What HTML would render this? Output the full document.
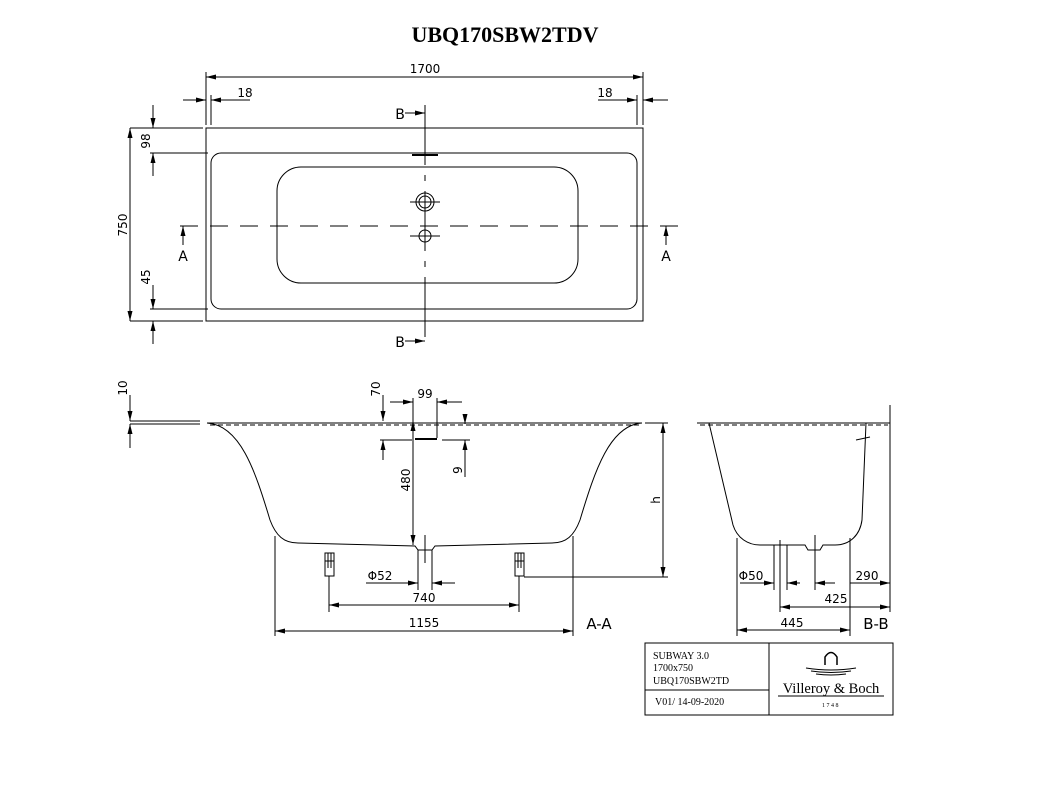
<!DOCTYPE html>
<html><head><meta charset="utf-8"><style>
html,body{margin:0;padding:0;background:#fff;}
svg{display:block;}
.d{font-family:"DejaVu Sans","Liberation Sans",sans-serif;font-size:12px;fill:#000;}
.s{font-family:"Liberation Serif",serif;fill:#000;}
</style></head><body>
<svg width="1055" height="789" viewBox="0 0 1055 789" xmlns="http://www.w3.org/2000/svg">
<defs>
<marker id="a" viewBox="0 0 12 6" refX="12" refY="3" markerWidth="12" markerHeight="5" markerUnits="userSpaceOnUse" orient="auto-start-reverse"><path d="M0,0L12,3L0,6z" fill="#000"/></marker>
</defs>
<text x="505" y="42" text-anchor="middle" class="s" font-size="22" font-weight="bold">UBQ170SBW2TDV</text>
<g stroke="#000" stroke-width="1" fill="none">
<rect x="206" y="128" width="437" height="193"/>
<rect x="211" y="153" width="426" height="156" rx="10"/>
<rect x="277" y="167" width="301" height="116" rx="24"/>
<line x1="180" y1="226" x2="680" y2="226" stroke-dasharray="18,12"/>
<line x1="425" y1="105" x2="425" y2="346" stroke-dasharray="60,10,6,10"/>
<line x1="412" y1="155" x2="438" y2="155" stroke-width="2"/>
<circle cx="425" cy="202" r="9"/><circle cx="425" cy="202" r="6"/>
<line x1="410" y1="202" x2="440" y2="202"/>
<circle cx="425" cy="236" r="6"/><line x1="410" y1="236" x2="440" y2="236"/>
<line x1="206" y1="72" x2="206" y2="125"/><line x1="643" y1="72" x2="643" y2="125"/>
<line x1="211" y1="95" x2="211" y2="125"/><line x1="637" y1="95" x2="637" y2="125"/>
<line x1="206" y1="77" x2="643" y2="77" marker-start="url(#a)" marker-end="url(#a)"/>
<line x1="183" y1="100" x2="206" y2="100" marker-end="url(#a)"/>
<line x1="250" y1="100" x2="211" y2="100" marker-end="url(#a)"/>
<line x1="598" y1="100" x2="637" y2="100" marker-end="url(#a)"/>
<line x1="668" y1="100" x2="643" y2="100" marker-end="url(#a)"/>
<line x1="130" y1="128" x2="203" y2="128"/><line x1="150" y1="153" x2="208" y2="153"/>
<line x1="150" y1="309" x2="208" y2="309"/><line x1="130" y1="321" x2="203" y2="321"/>
<line x1="130" y1="128" x2="130" y2="321" marker-start="url(#a)" marker-end="url(#a)"/>
<line x1="153" y1="105" x2="153" y2="128" marker-end="url(#a)"/>
<line x1="153" y1="176" x2="153" y2="153" marker-end="url(#a)"/>
<line x1="153" y1="285" x2="153" y2="309" marker-end="url(#a)"/>
<line x1="153" y1="344" x2="153" y2="321" marker-end="url(#a)"/>
<line x1="183" y1="245" x2="183" y2="226" marker-end="url(#a)"/>
<line x1="666" y1="245" x2="666" y2="226" marker-end="url(#a)"/>
<line x1="405" y1="113" x2="425" y2="113" marker-end="url(#a)"/>
<line x1="405" y1="341" x2="425" y2="341" marker-end="url(#a)"/>
<line x1="130" y1="421" x2="200" y2="421"/>
<line x1="130" y1="424" x2="200" y2="424"/>
<path d="M207,423 L642,423"/>
<line x1="210" y1="425" x2="640" y2="425" stroke-dasharray="5,3"/>
<path d="M207,423 C240,425 255,470 270,520 C276,536 284,543 298,543 L415,546 L418,550 L432,550 L435,546 L552,543 C566,543 574,536 580,520 C595,470 610,425 642,423"/>
<line x1="130" y1="395" x2="130" y2="421" marker-end="url(#a)"/>
<line x1="130" y1="448" x2="130" y2="424" marker-end="url(#a)"/>
<line x1="383" y1="395" x2="383" y2="421" marker-end="url(#a)"/>
<line x1="383" y1="460" x2="383" y2="440" marker-end="url(#a)"/>
<line x1="380" y1="440" x2="412" y2="440"/>
<line x1="415" y1="439" x2="437" y2="439" stroke-width="2"/>
<line x1="442" y1="440" x2="470" y2="440"/>
<line x1="413" y1="398" x2="413" y2="421"/><line x1="437" y1="398" x2="437" y2="438"/>
<line x1="390" y1="402" x2="413" y2="402" marker-end="url(#a)"/>
<line x1="462" y1="402" x2="437" y2="402" marker-end="url(#a)"/>
<line x1="465" y1="415" x2="465" y2="424" marker-end="url(#a)"/>
<line x1="465" y1="477" x2="465" y2="440" marker-end="url(#a)"/>
<line x1="413" y1="421" x2="413" y2="545" marker-start="url(#a)" marker-end="url(#a)"/>
<line x1="425" y1="535" x2="425" y2="563"/>
<line x1="418" y1="550" x2="418" y2="590"/><line x1="432" y1="550" x2="432" y2="590"/>
<line x1="366" y1="583" x2="418" y2="583" marker-end="url(#a)"/>
<line x1="455" y1="583" x2="432" y2="583" marker-end="url(#a)"/>
<rect x="325" y="553" width="9" height="23"/><line x1="325" y1="561" x2="334" y2="561"/><line x1="328" y1="553" x2="328" y2="568"/><line x1="331" y1="553" x2="331" y2="568"/>
<rect x="515" y="553" width="9" height="23"/><line x1="515" y1="561" x2="524" y2="561"/><line x1="518" y1="553" x2="518" y2="568"/><line x1="521" y1="553" x2="521" y2="568"/>
<line x1="329" y1="576" x2="329" y2="612"/><line x1="519" y1="576" x2="519" y2="612"/>
<line x1="329" y1="605" x2="519" y2="605" marker-start="url(#a)" marker-end="url(#a)"/>
<line x1="275" y1="536" x2="275" y2="636"/><line x1="573" y1="536" x2="573" y2="636"/>
<line x1="275" y1="631" x2="573" y2="631" marker-start="url(#a)" marker-end="url(#a)"/>
<line x1="524" y1="577" x2="668" y2="577"/><line x1="645" y1="423" x2="668" y2="423"/>
<line x1="663" y1="423" x2="663" y2="577" marker-start="url(#a)" marker-end="url(#a)"/>
<path d="M697,423 L890,423"/>
<line x1="700" y1="425" x2="888" y2="425" stroke-dasharray="5,3"/>
<path d="M697,423 L709,423 L733,525 C737,538 748,545 760,545 L805,545 L808,550 L820,550 L823,545 L835,545 C850,545 860,535 862,520 L866,423 L890,423"/>
<line x1="856" y1="440" x2="870" y2="437"/>
<line x1="890" y1="405" x2="890" y2="612"/>
<line x1="737" y1="538" x2="737" y2="636"/><line x1="850" y1="538" x2="850" y2="636"/>
<line x1="774" y1="545" x2="774" y2="590"/><line x1="787" y1="545" x2="787" y2="590"/><line x1="780" y1="540" x2="780" y2="612"/>
<line x1="815" y1="535" x2="815" y2="590"/>
<line x1="740" y1="583" x2="774" y2="583" marker-end="url(#a)"/>
<line x1="800" y1="583" x2="787" y2="583" marker-end="url(#a)"/>
<line x1="835" y1="583" x2="815" y2="583" marker-end="url(#a)"/>
<line x1="850" y1="583" x2="890" y2="583" marker-end="url(#a)"/>
<line x1="780" y1="607" x2="890" y2="607" marker-start="url(#a)" marker-end="url(#a)"/>
<line x1="737" y1="630" x2="850" y2="630" marker-start="url(#a)" marker-end="url(#a)"/>
<rect x="645" y="643" width="248" height="72"/>
<line x1="769" y1="643" x2="769" y2="715"/><line x1="645" y1="690" x2="769" y2="690"/>
<path d="M825,665 L825,657 Q831,648 837,657 L837,665" stroke-width="1.5"/>
<path d="M806,668 Q831,672 856,668 M811,671 Q831,674 851,671 M816,674 Q831,676 846,674"/>
<line x1="778" y1="696" x2="884" y2="696"/>
</g>
<g class="d">
<text x="425" y="73" text-anchor="middle">1700</text>
<text x="245" y="97" text-anchor="middle">18</text>
<text x="605" y="97" text-anchor="middle">18</text>
<text x="400" y="119" text-anchor="middle" font-size="14">B</text>
<text x="400" y="347" text-anchor="middle" font-size="14">B</text>
<text x="183" y="261" text-anchor="middle" font-size="14">A</text>
<text x="666" y="261" text-anchor="middle" font-size="14">A</text>
<text transform="translate(127,225) rotate(-90)" text-anchor="middle">750</text>
<text transform="translate(150,141) rotate(-90)" text-anchor="middle">98</text>
<text transform="translate(150,277) rotate(-90)" text-anchor="middle">45</text>
<text transform="translate(127,388) rotate(-90)" text-anchor="middle">10</text>
<text transform="translate(380,389) rotate(-90)" text-anchor="middle">70</text>
<text x="425" y="398" text-anchor="middle">99</text>
<text transform="translate(462,470) rotate(-90)" text-anchor="middle">9</text>
<text transform="translate(410,480) rotate(-90)" text-anchor="middle">480</text>
<text transform="translate(660,500) rotate(-90)" text-anchor="middle">h</text>
<text x="380" y="580" text-anchor="middle">Φ52</text>
<text x="424" y="602" text-anchor="middle">740</text>
<text x="424" y="627" text-anchor="middle">1155</text>
<text x="599" y="629" text-anchor="middle" font-size="15">A-A</text>
<text x="751" y="580" text-anchor="middle">Φ50</text>
<text x="867" y="580" text-anchor="middle">290</text>
<text x="836" y="603" text-anchor="middle">425</text>
<text x="792" y="627" text-anchor="middle">445</text>
<text x="876" y="629" text-anchor="middle" font-size="15">B-B</text>
</g>
<g class="s" font-size="10">
<text x="653" y="659">SUBWAY 3.0</text>
<text x="653" y="671">1700x750</text>
<text x="653" y="684">UBQ170SBW2TD</text>
<text x="655" y="705">V01/ 14-09-2020</text>
<text x="831" y="693" text-anchor="middle" font-size="14.5">Villeroy &amp; Boch</text>
<text x="831" y="707" text-anchor="middle" font-size="6" letter-spacing="1.5">1748</text>
</g>
</svg>
</body></html>
